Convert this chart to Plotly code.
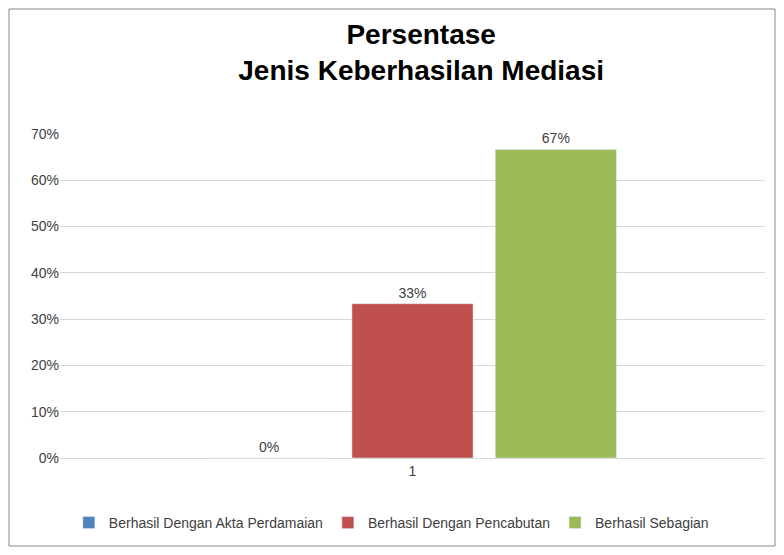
import plotly.graph_objects as go

categories = ["1"]
series_names = ["Berhasil Dengan Akta Perdamaian", "Berhasil Dengan Pencabutan", "Berhasil Sebagian"]
series_values = [0.0, 0.3333, 0.6667]
series_labels = ["0%", "33%", "67%"]
colors = ["#4F81BD", "#C0504D", "#9BBB59"]

fig = go.Figure()
for name, val, lab, col in zip(series_names, series_values, series_labels, colors):
    fig.add_trace(go.Bar(x=categories, y=[val], name=name, marker_color=col,
                         text=[lab], textposition="outside", cliponaxis=False,
                         textfont=dict(size=14, color="#404040")))

W, H = 784, 555
ml, mr, mt, mb = 52, 27, 126, 105
pw, ph = W - ml - mr, H - mt - mb

fig.update_layout(
    width=W, height=H,
    margin=dict(l=ml, r=mr, t=mt, b=mb),
    paper_bgcolor="white", plot_bgcolor="white",
    font=dict(family="Liberation Sans, Arial", color="#404040"),
    title=dict(text="<b>Persentase<br>Jenis Keberhasilan Mediasi</b>",
               x=0.527, xanchor="center", y=0.935, yanchor="middle",
               font=dict(size=28, color="black")),
    barmode="group", bargap=0.39, bargroupgap=0.155,
    xaxis=dict(showgrid=False, showline=True, linecolor="#D9D9D9",
               tickfont=dict(size=14, color="#404040"), ticks=""),
    yaxis=dict(range=[0, 0.7], dtick=0.1, tickformat=".0%", showgrid=True,
               gridcolor="#D9D9D9", zeroline=False, ticks="",
               tickfont=dict(size=14, color="#404040")),
    legend=dict(orientation="h", x=0.47, xanchor="center", y=-(515 - 450) / ph,
                yanchor="middle", font=dict(size=14, color="#404040"),
                itemwidth=30, traceorder="normal"),
    showlegend=True,
    shapes=[dict(type="rect", xref="paper", yref="paper",
                 x0=-(ml - 1) / pw, x1=1 + (mr - 17) / pw,
                 y0=-(mb - 17) / ph, y1=1 + (mt - 1) / ph,
                 line=dict(color="#898989", width=1))],
)

fig.write_html("out.html")
